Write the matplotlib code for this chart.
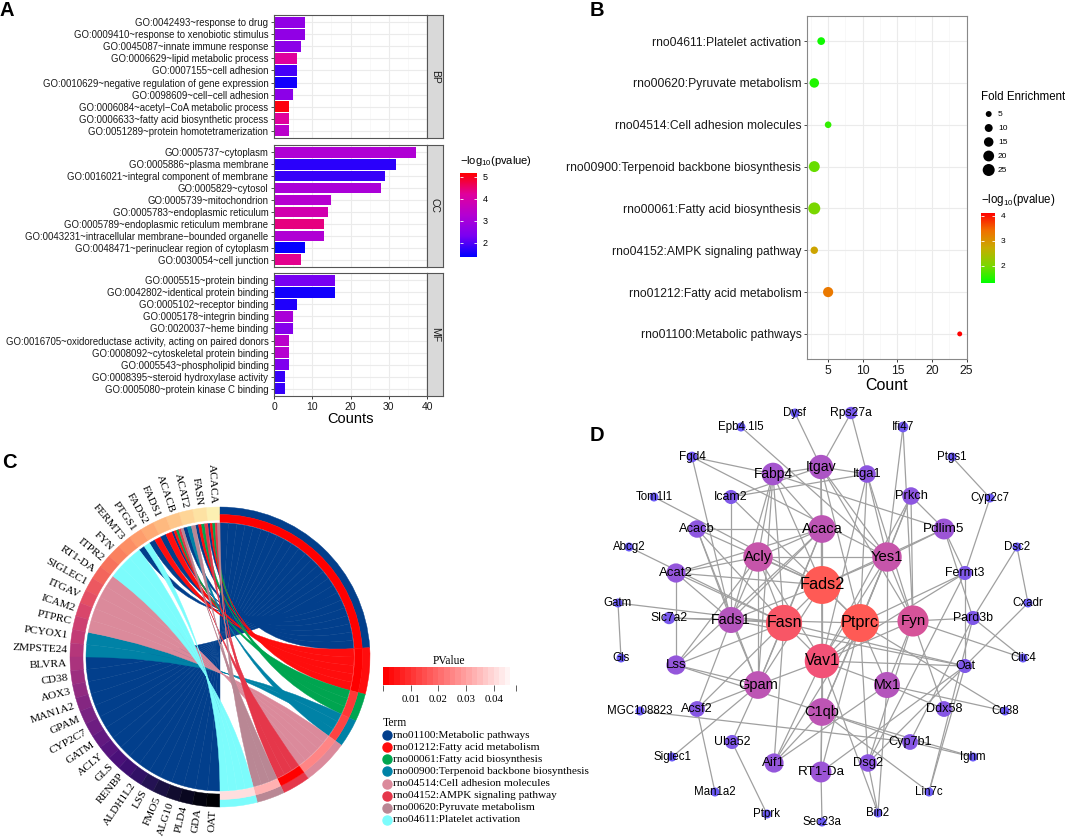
import numpy as np
import matplotlib
import matplotlib.pyplot as plt
from matplotlib.colors import LinearSegmentedColormap, Normalize
from matplotlib.patches import Wedge, Circle, PathPatch
from matplotlib.path import Path
from matplotlib.collections import LineCollection

plt.rcParams['font.family'] = ['Liberation Sans', 'DejaVu Sans']
plt.rcParams['mathtext.default'] = 'regular'

W, H = 1065, 839

# ---------------- data: panel A (GO terms) ----------------
bp_terms = ["GO:0042493~response to drug",
            "GO:0009410~response to xenobiotic stimulus",
            "GO:0045087~innate immune response",
            "GO:0006629~lipid metabolic process",
            "GO:0007155~cell adhesion",
            "GO:0010629~negative regulation of gene expression",
            "GO:0098609~cell\u2212cell adhesion",
            "GO:0006084~acetyl\u2212CoA metabolic process",
            "GO:0006633~fatty acid biosynthetic process",
            "GO:0051289~protein homotetramerization"]
bp_counts = [8, 8, 7, 6, 6, 6, 5, 4, 4, 4]
bp_logp = [2.7, 2.7, 2.6, 4.2, 1.9, 1.5, 2.6, 5.1, 4.2, 3.4]

cc_terms = ["GO:0005737~cytoplasm",
            "GO:0005886~plasma membrane",
            "GO:0016021~integral component of membrane",
            "GO:0005829~cytosol",
            "GO:0005739~mitochondrion",
            "GO:0005783~endoplasmic reticulum",
            "GO:0005789~endoplasmic reticulum membrane",
            "GO:0043231~intracellular membrane\u2212bounded organelle",
            "GO:0048471~perinuclear region of cytoplasm",
            "GO:0030054~cell junction"]
cc_counts = [37, 32, 29, 28, 15, 14, 13, 13, 8, 7]
cc_logp = [3.2, 1.7, 1.8, 3.1, 3.3, 3.9, 4.4, 3.2, 1.4, 4.3]

mf_terms = ["GO:0005515~protein binding",
            "GO:0042802~identical protein binding",
            "GO:0005102~receptor binding",
            "GO:0005178~integrin binding",
            "GO:0020037~heme binding",
            "GO:0016705~oxidoreductase activity, acting on paired donors",
            "GO:0008092~cytoskeletal protein binding",
            "GO:0005543~phospholipid binding",
            "GO:0008395~steroid hydroxylase activity",
            "GO:0005080~protein kinase C binding"]
mf_counts = [16, 16, 6, 5, 5, 4, 4, 4, 3, 3]
mf_logp = [2.3, 1.5, 1.6, 3.1, 2.5, 3.4, 3.3, 2.4, 1.8, 1.8]

# ---------------- data: panel B (KEGG bubble) ----------------
kegg_terms = ["rno04611:Platelet activation",
              "rno00620:Pyruvate metabolism",
              "rno04514:Cell adhesion molecules",
              "rno00900:Terpenoid backbone biosynthesis",
              "rno00061:Fatty acid biosynthesis",
              "rno04152:AMPK signaling pathway",
              "rno01212:Fatty acid metabolism",
              "rno01100:Metabolic pathways"]
kegg_counts = [4, 3, 5, 3, 3, 3, 5, 24]
kegg_fold = [9.4, 15.0, 6.6, 20.4, 25.0, 8.5, 17.4, 3.2]
kegg_logp = [1.4, 1.5, 1.6, 1.9, 2.0, 2.8, 3.3, 4.1]
fold_legend = [5, 10, 15, 20, 25]

# ---------------- data: panel C (chord) ----------------
chord_terms = ["rno01100:Metabolic pathways",
               "rno01212:Fatty acid metabolism",
               "rno00061:Fatty acid biosynthesis",
               "rno00900:Terpenoid backbone biosynthesis",
               "rno04514:Cell adhesion molecules",
               "rno04152:AMPK signaling pathway",
               "rno00620:Pyruvate metabolism",
               "rno04611:Platelet activation"]
chord_pvalues = [0.00008, 0.0005, 0.010, 0.0126, 0.025, 0.0016, 0.032, 0.040]
chord_genes = ["ACACA", "FASN", "ACAT2", "ACACB", "FADS1", "FADS2", "PTGS1",
               "FERMT3", "FYN", "ITPR2", "RT1-DA", "SIGLEC1", "ITGAV", "ICAM2",
               "PTPRC", "PCYOX1", "ZMPSTE24", "BLVRA", "CD38", "AOX3", "MAN1A2",
               "GPAM", "CYP2C7", "GATM", "ACLY", "GLS", "RENBP", "ALDH1L2", "LSS",
               "FMO5", "ALG10", "PLD4", "GDA", "OAT"]
metabolic_genes = ["ACACA", "FASN", "ACAT2", "ACACB", "FADS1", "FADS2", "PTGS1",
                   "BLVRA", "CD38", "AOX3", "MAN1A2", "GPAM", "CYP2C7", "GATM",
                   "ACLY", "GLS", "RENBP", "ALDH1L2", "LSS", "FMO5", "ALG10",
                   "PLD4", "GDA", "OAT"]
fa_metab_genes = ["ACACA", "FASN", "ACACB", "FADS1", "FADS2"]
fa_bios_genes = ["ACACA", "FASN", "ACACB"]
terpenoid_genes = ["ACAT2", "PCYOX1", "ZMPSTE24"]
adhesion_genes = ["RT1-DA", "SIGLEC1", "ITGAV", "ICAM2", "PTPRC"]
ampk_genes = ["ACACA", "FASN", "ACACB"]
pyruvate_genes = ["ACACA", "ACAT2", "ACACB"]
platelet_genes = ["PTGS1", "FERMT3", "FYN", "ITPR2"]
term_genes = [metabolic_genes, fa_metab_genes, fa_bios_genes, terpenoid_genes,
              adhesion_genes, ampk_genes, pyruvate_genes, platelet_genes]

# ---------------- data: panel D (PPI network) ----------------
node_names = ["Dysf", "Rps27a", "Epb4.1l5", "Ifi47", "Fgd4", "Ptgs1", "Fabp4", "Itgav",
              "Itga1", "Tom1l1", "Icam2", "Prkch", "Cyp2c7", "Acacb", "Acaca", "Pdlim5",
              "Abcg2", "Acly", "Yes1", "Dsc2", "Acat2", "Fads2", "Fermt3", "Gatm",
              "Slc7a2", "Fads1", "Fasn", "Ptprc", "Fyn", "Pard3b", "Cxadr", "Gls",
              "Lss", "Vav1", "Clic4", "Oat", "Gpam", "Mx1", "MGC108823", "Acsf2",
              "C1qb", "Ddx58", "Cd38", "Uba52", "Cyp7b1", "Siglec1", "Ighm", "Aif1",
              "RT1-Da", "Dsg2", "Man1a2", "Lin7c", "Ptprk", "Bin2", "Sec23a"]
# layout coordinates (pixels of the original picture)
node_x = [795, 851, 741, 903, 692, 952, 773, 821, 867, 654, 731, 911, 990, 697, 822, 944,
          629, 758, 887, 1017, 676, 822, 965, 618, 669, 731, 784, 860, 913, 973, 1028, 621,
          676, 822, 1023, 965, 758, 887, 640, 697, 822, 944, 1005, 732, 910, 672, 973, 774,
          821, 868, 715, 929, 767, 878, 822]
node_y = [413, 413, 427, 427, 457, 457, 474, 467, 474, 497, 497, 496, 498, 529, 529, 529,
          547, 557, 557, 547, 573, 585, 573, 603, 618, 620, 623, 623, 621, 618, 603, 658,
          665, 661, 658, 666, 685, 685, 711, 709, 712, 709, 711, 742, 742, 757, 757, 763,
          772, 763, 792, 792, 814, 813, 822]
node_degree = [1, 3, 1, 2, 2, 1, 9, 10, 6, 1, 4, 6, 1, 6, 12, 8,
               1, 13, 13, 1, 7, 18, 4, 1, 3, 11, 17, 18, 14, 4, 1, 1,
               7, 16, 1, 4, 12, 11, 1, 5, 12, 5, 1, 4, 5, 1, 1, 7,
               8, 6, 1, 1, 1, 1, 1]
edges = [
    ("Dysf", "Itgav"), ("Rps27a", "Itgav"), ("Rps27a", "Itga1"), ("Epb4.1l5", "Yes1"),
    ("Ifi47", "Yes1"), ("Ifi47", "Fyn"), ("Fgd4", "Fabp4"), ("Fgd4", "Fads1"), ("Fgd4", "Yes1"),
    ("Ptgs1", "Cyp2c7"), ("Cyp2c7", "Fermt3"),
    ("Fabp4", "Itgav"), ("Fabp4", "Acly"), ("Fabp4", "Fads1"), ("Fabp4", "Fasn"),
    ("Fabp4", "Fads2"), ("Fabp4", "Gpam"), ("Fabp4", "Pdlim5"), ("Fabp4", "Acaca"),
    ("Icam2", "Itga1"), ("Icam2", "Itgav"), ("Icam2", "Ptprc"), ("Icam2", "Fads1"),
    ("Tom1l1", "Fads2"),
    ("Itgav", "Itga1"), ("Itgav", "Acaca"), ("Itgav", "Ptprc"), ("Itgav", "Fyn"),
    ("Itgav", "Yes1"), ("Itgav", "Fads2"), ("Itgav", "Vav1"),
    ("Itga1", "Ptprc"), ("Itga1", "Fyn"), ("Itga1", "Yes1"), ("Itga1", "Vav1"),
    ("Prkch", "Yes1"), ("Prkch", "Fyn"), ("Prkch", "Ptprc"), ("Prkch", "Pdlim5"), ("Prkch", "Vav1"),
    ("Acacb", "Acaca"), ("Acacb", "Fasn"), ("Acacb", "Fads1"), ("Acacb", "Gpam"), ("Acacb", "Fads2"),
    ("Acaca", "Acly"), ("Acaca", "Fasn"), ("Acaca", "Fads2"), ("Acaca", "Gpam"),
    ("Acaca", "Fads1"), ("Acaca", "Acat2"), ("Acaca", "Lss"),
    ("Pdlim5", "Fermt3"), ("Pdlim5", "Pard3b"), ("Pdlim5", "Yes1"), ("Pdlim5", "Fads2"),
    ("Abcg2", "Fasn"),
    ("Acly", "Acat2"), ("Acly", "Fasn"), ("Acly", "Fads2"), ("Acly", "Fads1"), ("Acly", "Gpam"),
    ("Acly", "Lss"), ("Acly", "Yes1"), ("Acly", "Vav1"),
    ("Yes1", "Fyn"), ("Yes1", "Ptprc"), ("Yes1", "Vav1"), ("Yes1", "Mx1"), ("Yes1", "C1qb"),
    ("Yes1", "Fads2"),
    ("Dsc2", "Cxadr"), ("Dsc2", "Pard3b"),
    ("Acat2", "Fads2"), ("Acat2", "Fasn"), ("Acat2", "Lss"), ("Acat2", "Fads1"),
    ("Fads2", "Fasn"), ("Fads2", "Fads1"), ("Fads2", "Gpam"), ("Fads2", "Vav1"), ("Fads2", "Ptprc"),
    ("Fermt3", "Vav1"), ("Fermt3", "Ptprc"), ("Fermt3", "Oat"), ("Fermt3", "Dsg2"),
    ("Gatm", "Gls"), ("Gatm", "Fasn"), ("Slc7a2", "Ptprc"), ("Slc7a2", "Fads1"),
    ("Fads1", "Fasn"), ("Fads1", "Gpam"), ("Fads1", "Acsf2"), ("Fads1", "Oat"),
    ("Fasn", "Gpam"), ("Fasn", "Vav1"), ("Fasn", "Lss"), ("Fasn", "Acsf2"), ("Fasn", "Oat"),
    ("Fasn", "Aif1"),
    ("Ptprc", "Vav1"), ("Ptprc", "Fyn"), ("Ptprc", "C1qb"), ("Ptprc", "Mx1"), ("Ptprc", "RT1-Da"),
    ("Ptprc", "Aif1"), ("Ptprc", "Dsg2"), ("Ptprc", "Cd38"),
    ("Fyn", "Vav1"), ("Fyn", "Mx1"), ("Fyn", "Pard3b"), ("Fyn", "Clic4"), ("Fyn", "Ddx58"),
    ("Fyn", "Dsg2"),
    ("Pard3b", "Clic4"), ("Pard3b", "Lin7c"), ("Pard3b", "Cyp7b1"), ("Cxadr", "Oat"),
    ("Lss", "C1qb"), ("Lss", "Gpam"),
    ("Vav1", "C1qb"), ("Vav1", "Gpam"), ("Vav1", "Mx1"), ("Vav1", "RT1-Da"), ("Vav1", "Aif1"),
    ("Vav1", "Bin2"), ("Vav1", "Oat"),
    ("Gpam", "Acsf2"), ("Gpam", "Siglec1"), ("Gpam", "Uba52"),
    ("Mx1", "Ddx58"), ("Mx1", "Bin2"), ("Mx1", "Aif1"), ("Mx1", "Cd38"),
    ("MGC108823", "Cyp7b1"), ("Acsf2", "Man1a2"),
    ("C1qb", "RT1-Da"), ("C1qb", "Aif1"), ("C1qb", "Ighm"), ("C1qb", "Cyp7b1"), ("C1qb", "Lin7c"),
    ("Uba52", "Ptprk"), ("RT1-Da", "Sec23a"), ("RT1-Da", "Oat"), ("Cyp7b1", "Ighm"),
    ("Dsg2", "Oat"), ("Dsg2", "Bin2"), ("Lin7c", "Oat"),
]


def box(x0, y0, x1, y1):
    # pixel box of the 1065x839 picture -> figure fraction
    return [x0 / W, 1 - y1 / H, (x1 - x0) / W, (y1 - y0) / H]


fig = plt.figure(figsize=(10.65, 8.39), dpi=100)

# ================= Panel A =================
cmap_go = LinearSegmentedColormap.from_list(
    "go", ["#0000FF", "#7A00F2", "#B400D2", "#E0009C", "#FF0000"])
norm_go = Normalize(1.36, 5.18)

facets = [("BP", bp_terms, bp_counts, bp_logp, 15, 138),
          ("CC", cc_terms, cc_counts, cc_logp, 145, 267),
          ("MF", mf_terms, mf_counts, mf_logp, 273, 396)]
for name, terms, counts, logp, y0, y1 in facets:
    ax = fig.add_axes(box(274, y0, 427, y1))
    n = len(terms)
    ypos = np.arange(n)[::-1]
    ax.barh(ypos, counts, height=0.9, color=cmap_go(norm_go(np.array(logp))), zorder=2)
    ax.set_xlim(0, 40)
    ax.set_ylim(-0.6, n - 0.4)
    ax.set_yticks(ypos)
    ax.set_yticklabels(terms, fontsize=6.9, color='#1A1A1A')
    ax.set_xticks([0, 10, 20, 30, 40])
    ax.set_xticks([5, 15, 25, 35], minor=True)
    ax.set_axisbelow(True)
    ax.grid(which='major', color='#EBEBEB', lw=0.8)
    ax.grid(which='minor', axis='x', color='#F5F5F5', lw=0.5)
    ax.tick_params(axis='y', length=2.5, width=0.6, color='#333333', pad=1.5)
    ax.tick_params(which='minor', length=0)
    if name != "MF":
        ax.tick_params(axis='x', which='major', length=0, labelbottom=False)
    else:
        ax.tick_params(axis='x', which='major', length=2.5, width=0.6, labelsize=7.5,
                       pad=1.5, colors='#1A1A1A')
        ax.set_xlabel("Counts", fontsize=10.5, labelpad=0)
    for s in ax.spines.values():
        s.set_color('#555555')
        s.set_linewidth(0.8)
    sax = fig.add_axes(box(427, y0, 443, y1))
    sax.set_facecolor('#D9D9D9')
    sax.set_xticks([])
    sax.set_yticks([])
    for s in sax.spines.values():
        s.set_color('#555555')
        s.set_linewidth(0.8)
    sax.text(0.5, 0.5, name, rotation=270, ha='center', va='center', fontsize=7.5,
             color='#1A1A1A', transform=sax.transAxes)

cax_a = fig.add_axes(box(460, 173, 477, 257))
cb_a = fig.colorbar(matplotlib.cm.ScalarMappable(norm=norm_go, cmap=cmap_go), cax=cax_a,
                    ticks=[2, 3, 4, 5])
cb_a.outline.set_visible(False)
cax_a.tick_params(length=0, labelsize=6.5, pad=4)
cax_a.hlines([2, 3, 4, 5], 0, 0.2, colors='white', lw=0.6)
cax_a.hlines([2, 3, 4, 5], 0.8, 1, colors='white', lw=0.6)
fig.text(460 / W, 1 - 161 / H, "\u2212log$_{10}$(pvalue)", fontsize=8, va='center')

# ================= Panel B =================
cmap_kegg = LinearSegmentedColormap.from_list(
    "kegg", ["#00FF00", "#7CD600", "#C8AC00", "#F07000", "#FF0000"])
norm_kegg = Normalize(1.32, 4.1)


def fold_to_size(f):
    # diameter in pixels grows with sqrt of fold enrichment, converted to points^2
    diam_px = 1.0 + 2.2 * np.sqrt(np.asarray(f, dtype=float))
    return (diam_px * 0.72) ** 2


axb = fig.add_axes(box(807, 16, 967, 359))
yb = np.arange(len(kegg_terms))[::-1] + 1
axb.scatter(kegg_counts, yb, s=fold_to_size(kegg_fold), c=kegg_logp, cmap=cmap_kegg,
            norm=norm_kegg, linewidths=0, zorder=3)
axb.set_xlim(1.95, 25.05)
axb.set_ylim(0.4, 8.6)
axb.set_yticks(yb)
axb.set_yticklabels(kegg_terms, fontsize=8.7, color='#1A1A1A')
axb.set_xticks([5, 10, 15, 20, 25])
axb.set_xticks([2.5, 7.5, 12.5, 17.5, 22.5], minor=True)
axb.set_axisbelow(True)
axb.grid(which='major', color='#EBEBEB', lw=0.8)
axb.grid(which='minor', axis='x', color='#F5F5F5', lw=0.5)
axb.tick_params(which='minor', length=0)
axb.tick_params(axis='both', which='major', length=2.5, width=0.6, color='#333333', pad=1.5)
axb.tick_params(axis='x', labelsize=8.7, colors='#1A1A1A')
axb.set_xlabel("Count", fontsize=11.5, labelpad=1)
for s in axb.spines.values():
    s.set_color('#888888')
    s.set_linewidth(0.8)

# size legend
axl = fig.add_axes(box(975, 80, 1065, 180))
axl.set_xlim(975, 1065)
axl.set_ylim(180, 80)
axl.axis('off')
leg_y = np.linspace(114, 170, len(fold_legend))
axl.scatter([988.7] * len(fold_legend), leg_y, s=fold_to_size(fold_legend), color='black',
            linewidths=0, clip_on=False)
for v, yy in zip(fold_legend, leg_y):
    axl.text(998, yy, str(v), fontsize=6, va='center', ha='left')
fig.text(981 / W, 1 - 97 / H, "Fold Enrichment", fontsize=8.3, va='center')

cax_b = fig.add_axes(box(981, 213, 995, 283))
cb_b = fig.colorbar(matplotlib.cm.ScalarMappable(norm=norm_kegg, cmap=cmap_kegg), cax=cax_b,
                    ticks=[2, 3, 4])
cb_b.outline.set_visible(False)
cax_b.tick_params(length=0, labelsize=6, pad=4)
cax_b.hlines([2, 3, 4], 0, 0.2, colors='white', lw=0.6)
cax_b.hlines([2, 3, 4], 0.8, 1, colors='white', lw=0.6)
fig.text(981 / W, 1 - 200 / H, "\u2212log$_{10}$(pvalue)", fontsize=8.3, va='center')

# ================= Panel C =================
serif = ['Liberation Serif', 'DejaVu Serif']
term_colors = ["#023F8C", "#FF0D0D", "#00A550", "#0082A6", "#DB8A9B", "#E5374A",
               "#B98794", "#7CFCFC"]
cmap_pv = LinearSegmentedColormap.from_list("pv", ["#FF0000", "#FFFFFF"], N=24)
norm_pv = Normalize(0, 0.048)

axc = fig.add_axes([0, 0, 560 / W, 420 / H])
axc.set_xlim(0, 560)
axc.set_ylim(0, 420)
axc.axis('off')
cx, cy = 220, 839 - 657
r_out, r_rib = 150, 134


def cw_xy(theta, r):
    phi = np.deg2rad(90 - theta)
    return cx + r * np.cos(phi), cy + r * np.sin(phi)


def ribbon_path(g1, g2, t1, t2, r):
    verts, codes = [], []
    for k, a in enumerate(np.linspace(g1, g2, 12)):
        verts.append(cw_xy(a, r))
        codes.append(Path.MOVETO if k == 0 else Path.LINETO)
    verts += [(cx, cy), cw_xy(t2, r)]
    codes += [Path.CURVE3, Path.CURVE3]
    for a in np.linspace(t2, t1, 12)[1:]:
        verts.append(cw_xy(a, r))
        codes.append(Path.LINETO)
    verts += [(cx, cy), cw_xy(g1, r)]
    codes += [Path.CURVE3, Path.CURVE3]
    return Path(verts, codes)


n_genes = len(chord_genes)
gw = 180.0 / n_genes
term_counts = [len(g) for g in term_genes]
tw = 180.0 / sum(term_counts)

# gene sub-segments: each gene split between the terms it belongs to
gene_sub = {}
for i, g in enumerate(chord_genes):
    lo = 360 - (i + 1) * gw
    mine = [k for k in range(len(term_genes)) if g in term_genes[k]]
    w = gw / len(mine)
    for j, k in enumerate(mine):
        gene_sub[(g, k)] = (lo + j * w, lo + (j + 1) * w)

# gene ring (magma shades) and labels
gene_cols = plt.cm.magma(np.linspace(0.97, 0.0, n_genes))
for i, g in enumerate(chord_genes):
    lo = 360 - (i + 1) * gw
    hi = lo + gw
    axc.add_patch(Wedge((cx, cy), r_out, 90 - hi, 90 - lo, width=13,
                        facecolor=gene_cols[i], edgecolor=gene_cols[i], lw=0.3))
    mid = (lo + hi) / 2
    lx, ly = cw_xy(mid, r_out + 3)
    rot = (90 - mid) % 360 - 180
    axc.text(lx, ly, g, rotation=rot, rotation_mode='anchor', ha='right', va='center',
             fontsize=8.2, family=serif)

# term ring + ribbons
start = 0.0
for k, genes in enumerate(term_genes):
    end = start + tw * len(genes)
    axc.add_patch(Wedge((cx, cy), r_out, 90 - end, 90 - start, width=7.5,
                        facecolor=term_colors[k], edgecolor=term_colors[k], lw=0.3))
    pc = cmap_pv(norm_pv(chord_pvalues[k]))
    axc.add_patch(Wedge((cx, cy), r_out - 7.5, 90 - end, 90 - start, width=8,
                        facecolor=pc, edgecolor=pc, lw=0.3))
    ordered = sorted(genes, key=lambda g: -chord_genes.index(g))
    for j, g in enumerate(ordered):
        t1 = start + j * tw
        t2 = t1 + tw
        g1, g2 = gene_sub[(g, k)]
        axc.add_patch(PathPatch(ribbon_path(g1, g2, t1, t2, r_rib), facecolor=term_colors[k],
                                edgecolor=term_colors[k], lw=0.3))
    start = end

# PValue colour bar
cax_c = fig.add_axes(box(383, 667, 516, 685))
cb_c = fig.colorbar(matplotlib.cm.ScalarMappable(norm=norm_pv, cmap=cmap_pv), cax=cax_c,
                    orientation='horizontal', ticks=[0.01, 0.02, 0.03, 0.04])
cb_c.outline.set_visible(False)
cax_c.set_xticks([0, 0.048], minor=True)
cax_c.tick_params(which='both', length=4, width=0.6, color='#444444', pad=3)
for lab in cax_c.get_xticklabels():
    lab.set_fontsize(7.8)
    lab.set_family(serif)
fig.text(449 / W, 1 - 661 / H, "PValue", fontsize=8.3, ha='center', va='center', family=serif)

# term legend
axc.text(383, 839 - 723, "Term", fontsize=8.3, va='center', family=serif)
leg_ys = np.linspace(735, 820, len(chord_terms))
for k, t in enumerate(chord_terms):
    axc.plot(387, 839 - leg_ys[k], 'o', ms=6.5, color=term_colors[k], clip_on=False)
    axc.text(393, 839 - leg_ys[k], t, fontsize=8.1, va='center', family=serif, clip_on=False)

# ================= Panel D =================
cmap_net = LinearSegmentedColormap.from_list(
    "net", [(0, "#6A5AF5"), (0.4, "#9A55D8"), (0.7, "#C455AC"), (0.85, "#EE5080"),
            (1, "#FF5A55")])

axd = fig.add_axes(box(560, 400, 1065, 839))
axd.set_xlim(560, 1065)
axd.set_ylim(839, 400)
axd.axis('off')

pos = {nm: (x, y) for nm, x, y in zip(node_names, node_x, node_y)}
segs = [[pos[a], pos[b]] for a, b in edges]
axd.add_collection(LineCollection(segs, colors='#A0A0A0', linewidths=0.9, zorder=1))
for nm, x, y, d in zip(node_names, node_x, node_y, node_degree):
    r = 4.5 + (d - 1) * 0.85
    axd.add_patch(Circle((x, y), r, facecolor=cmap_net((d - 1) / 17.0), edgecolor='none',
                         zorder=2))
    axd.text(x, y, nm, ha='center', va='center', fontsize=8.3 + 0.2 * (d - 1), zorder=3)

# panel letters
for letter, lx, ly in [("A", 0, 11), ("B", 590, 11), ("C", 2, 463), ("D", 590, 435)]:
    fig.text(lx / W, 1 - ly / H, letter, fontsize=14.5, fontweight='bold', va='center')

fig.savefig("out.png", dpi=100)
